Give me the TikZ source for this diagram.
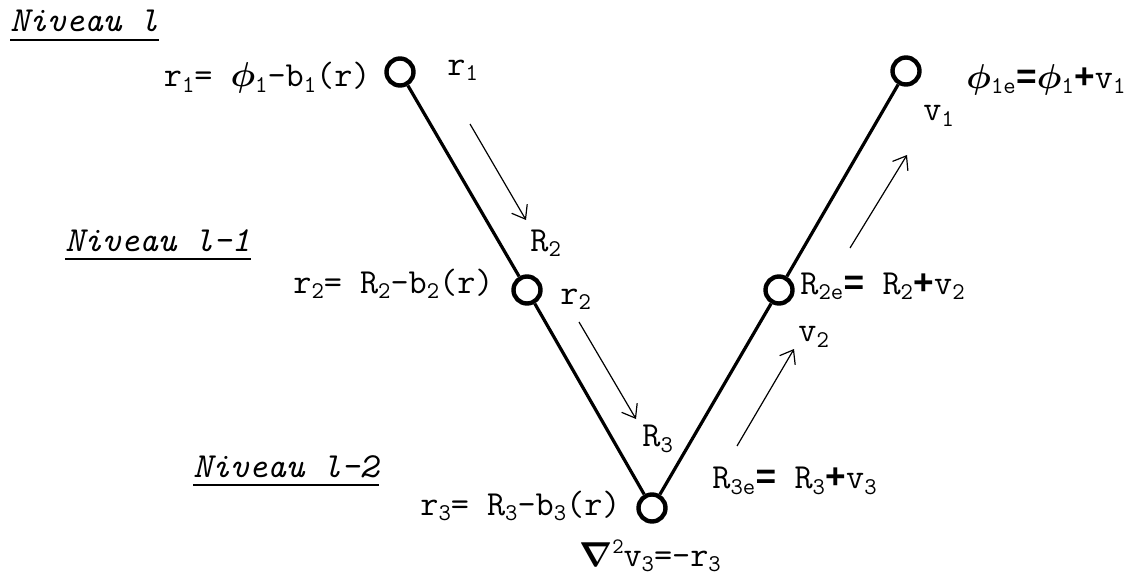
\documentclass[tikz,border=0pt]{standalone}
\usepackage{amsmath, amssymb}
\usepackage{fontspec}
\newfontfamily\opfont{Liberation Mono}
\usepackage{tikz}
\usetikzlibrary{arrows.meta, positioning}
\newcommand{\ix}[1]{\raisebox{-0.35ex}{\fontsize{12pt}{12pt}\selectfont #1}}
\newcommand{\ex}[1]{\raisebox{0.8ex}{\fontsize{11pt}{11pt}\selectfont #1}}
\newcommand{\phib}{$\boldsymbol{\phi}$}
\newcommand{\beq}{{\opfont\bfseries =}}
\newcommand{\bplus}{{\opfont\bfseries +}}
\tikzset{
  vnode/.style={circle, draw=black, line width=2.2pt, minimum size=13.5pt, inner sep=0pt, fill=white},
  vline/.style={line width=1.6pt},
  flow/.style={line width=0.6pt, -{Straight Barb[length=6pt, width=9pt]}},
  lbl/.style={inner sep=0pt, font=\fontsize{17.6pt}{20pt}\selectfont\ttfamily},
  level/.style={inner sep=0pt, anchor=base west, font=\fontsize{17.6pt}{20pt}\selectfont\ttfamily\itshape},
  uline/.style={line width=1pt}
}

\begin{document}
\begin{tikzpicture}[x=0.5pt, y=-0.5pt]
    \useasboundingbox (0,0) rectangle (1129,577);
    % Levels
    \node[level] (lev1) at (10,32)  {Niveau l};
    \node[level] (lev2) at (65,251) {Niveau l-1};
    \node[level] (lev3) at (193,477) {Niveau l-2};
    \foreach \l in {lev1, lev2, lev3}
      \draw[uline] ([yshift=-4pt]\l.base west) -- ([yshift=-4pt]\l.base east);
    % V-cycle nodes
    \node[vnode] (n1) at (400,72)  {};
    \node[vnode] (n2) at (527,290) {};
    \node[vnode] (n3) at (652,508) {};
    \node[vnode] (n4) at (779,290) {};
    \node[vnode] (n5) at (906,71)  {};
    \draw[vline] (n1) -- (n2) -- (n3) -- (n4) -- (n5);
    % Restriction (left branch)
    \node[lbl, anchor=east] (res1) at (371,78) {r\ix{1}= \phib\ix{1}-b\ix{1}(r)};
    \node[lbl, anchor=west] (r1) at (447,70) {r\ix{1}};
    \node[lbl, anchor=west] (R2) at (530,243) {R\ix{2}};
    \node[lbl, anchor=east] (res2) at (494,284) {r\ix{2}= R\ix{2}-b\ix{2}(r)};
    \node[lbl, anchor=west] (r2) at (560,299) {r\ix{2}};
    \node[lbl, anchor=west] (R3) at (642,439) {R\ix{3}};
    \node[lbl, anchor=east] (res3) at (621,506) {r\ix{3}= R\ix{3}-b\ix{3}(r)};
    \node[lbl] (solve) at (650,556) {$\boldsymbol{\nabla}$\ex{2}v\ix{3}=-r\ix{3}};
    % Prolongation (right branch)
    \node[lbl, anchor=west] (cor3) at (712,481) {R\ix{3e}\beq{} R\ix{3}\bplus{}v\ix{3}};
    \node[lbl, anchor=west] (v2) at (798,337) {v\ix{2}};
    \node[lbl, anchor=west] (cor2) at (800,286) {R\ix{2e}\beq{} R\ix{2}\bplus{}v\ix{2}};
    \node[lbl, anchor=west] (v1) at (923,116) {v\ix{1}};
    \node[lbl, anchor=west] (cor1) at (966,80) {\phib\ix{1e}\beq\phib\ix{1}\bplus{}v\ix{1}};
    % Flow arrows
    \coordinate (a1s) at (470,124);
    \coordinate (a1e) at (526,220);
    \coordinate (a2s) at (579,322);
    \coordinate (a2e) at (636,419);
    \coordinate (a3s) at (737,446);
    \coordinate (a3e) at (794,349);
    \coordinate (a4s) at (850,248);
    \coordinate (a4e) at (907,155);
    \draw[flow] (a1s) -- (a1e);
    \draw[flow] (a2s) -- (a2e);
    \draw[flow] (a3s) -- (a3e);
    \draw[flow] (a4s) -- (a4e);
\end{tikzpicture}
\end{document}
